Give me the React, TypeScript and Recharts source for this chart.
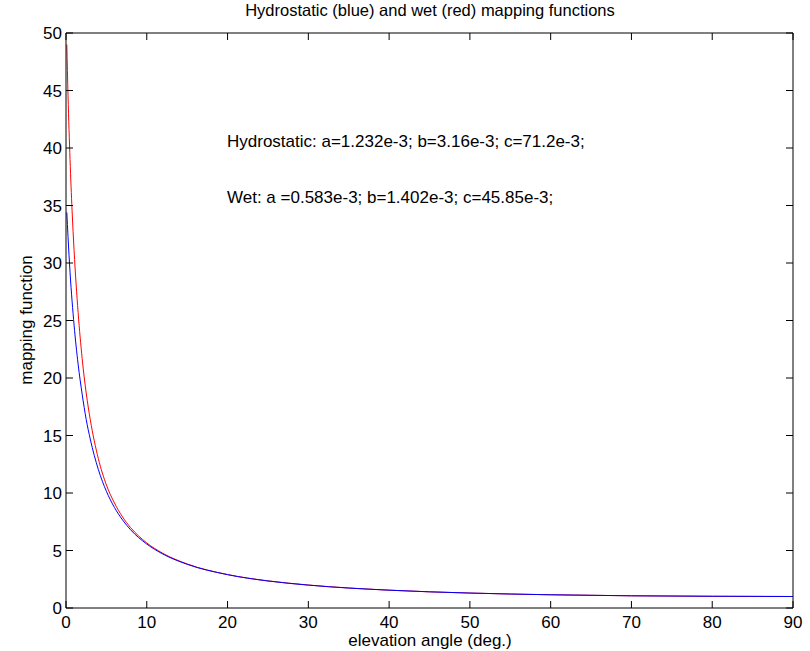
import React from 'react';
import { LineChart, Line, XAxis, YAxis } from 'recharts';

const elevation = [0.1, 0.25, 0.5, 0.75, 1, 1.5, 2, 2.5, 3, 4, 5, 6, 7, 8, 10, 12, 15, 20, 25, 30, 40, 50, 60, 70, 80, 90];

// Hydrostatic mapping function (blue)
const hydrostatic = [34.4, 32.3, 29.2, 26.7, 24.6, 21.2, 18.6, 16.4, 14.7, 12.05, 10.15, 8.74, 7.66, 6.8, 5.56, 4.69, 3.8, 2.9, 2.35, 1.99, 1.55, 1.3, 1.15, 1.06, 1.02, 1.0];

// Wet mapping function (red)
const wet = [49.0, 44.6, 39.0, 34.6, 31.1, 25.7, 21.7, 18.7, 16.4, 13.0, 10.7, 9.13, 7.92, 6.99, 5.66, 4.75, 3.83, 2.91, 2.36, 2.0, 1.55, 1.3, 1.15, 1.06, 1.02, 1.0];

const xTicks = [0, 10, 20, 30, 40, 50, 60, 70, 80, 90];
const yTicks = [0, 5, 10, 15, 20, 25, 30, 35, 40, 45, 50];

const data = elevation.map((e, i) => ({ e, hydrostatic: hydrostatic[i], wet: wet[i] }));

const FONT = '"Liberation Sans", Arial, Helvetica, sans-serif';
const FS = 17;
const TICK = 7;

// matlab style: tick marks point into the plot box
const BottomTick = ({ x, y, payload }: any) => (
  <g>
    <line x1={x} x2={x} y1={y} y2={y - TICK} stroke="#000" />
    <text x={x} y={y + 20} textAnchor="middle" fontSize={FS} fontFamily={FONT} fill="#000">
      {payload.value}
    </text>
  </g>
);

const TopTick = ({ x, y }: any) => <line x1={x} x2={x} y1={y} y2={y + TICK} stroke="#000" />;

const LeftTick = ({ x, y, payload }: any) => (
  <g>
    <line x1={x} x2={x + TICK} y1={y} y2={y} stroke="#000" />
    <text x={x - 4} y={y + 6} textAnchor="end" fontSize={FS} fontFamily={FONT} fill="#000">
      {payload.value}
    </text>
  </g>
);

const RightTick = ({ x, y }: any) => <line x1={x} x2={x - TICK} y1={y} y2={y} stroke="#000" />;

export default function App() {
  return (
    <div style={{ position: 'absolute', left: 0, top: 0, width: 810, height: 651, background: '#fff' }}>
      <LineChart width={810} height={651} data={data} margin={{ top: 32, right: 16, bottom: 0, left: 0 }}>
        <XAxis
          dataKey="e"
          type="number"
          domain={[0, 90]}
          ticks={xTicks}
          interval={0}
          allowDataOverflow
          height={43}
          tickSize={0}
          tickMargin={0}
          tickLine={false}
          axisLine={{ stroke: '#000' }}
          tick={<BottomTick />}
        />
        <XAxis
          xAxisId="top"
          orientation="top"
          dataKey="e"
          type="number"
          domain={[0, 90]}
          ticks={xTicks}
          interval={0}
          allowDataOverflow
          height={1}
          tickSize={0}
          tickMargin={0}
          tickLine={false}
          axisLine={{ stroke: '#000' }}
          tick={<TopTick />}
        />
        <YAxis
          type="number"
          domain={[0, 50]}
          ticks={yTicks}
          interval={0}
          allowDataOverflow
          width={66}
          tickSize={0}
          tickMargin={0}
          tickLine={false}
          axisLine={{ stroke: '#000' }}
          tick={<LeftTick />}
        />
        <YAxis
          yAxisId="right"
          orientation="right"
          type="number"
          domain={[0, 50]}
          ticks={yTicks}
          interval={0}
          allowDataOverflow
          width={1}
          tickSize={0}
          tickMargin={0}
          tickLine={false}
          axisLine={{ stroke: '#000' }}
          tick={<RightTick />}
        />
        <Line type="monotone" dataKey="wet" stroke="#ff0000" strokeWidth={1} dot={false} activeDot={false} isAnimationActive={false} />
        <Line type="monotone" dataKey="hydrostatic" stroke="#0000ff" strokeWidth={1} dot={false} activeDot={false} isAnimationActive={false} />
      </LineChart>
      <svg
        width={810}
        height={651}
        style={{ position: 'absolute', left: 0, top: 0, pointerEvents: 'none' }}
        fontFamily={FONT}
        fontSize={FS}
        fill="#000"
      >
        <text x={430} y={16} textAnchor="middle" fontSize={16.5}>Hydrostatic (blue) and wet (red) mapping functions</text>
        <text x={430} y={646} textAnchor="middle">elevation angle (deg.)</text>
        <text x={32} y={320} textAnchor="middle" transform="rotate(-90, 32, 320)">mapping function</text>
        <text x={227} y={147}>Hydrostatic: a=1.232e-3; b=3.16e-3; c=71.2e-3;</text>
        <text x={227} y={203}>Wet: a =0.583e-3; b=1.402e-3; c=45.85e-3;</text>
      </svg>
    </div>
  );
}
